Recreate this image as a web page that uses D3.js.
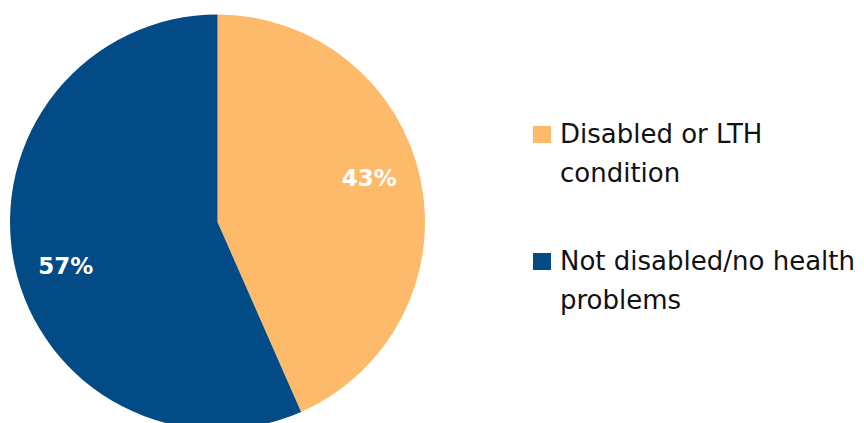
<!DOCTYPE html>
<html>
<head>
<meta charset="utf-8">
<script src="https://cdn.jsdelivr.net/npm/d3@7"></script>
<style>
  body { margin: 0; background: #fff; }
  svg { display: block; }
</style>
</head>
<body>
<div id="chart"></div>
<script>
  // data (labels show rounded values)
  var categories = ['Disabled or LTH condition', 'Not disabled/no health problems'];
  var values = [43.4, 56.6];
  var legendLines = [['Disabled or LTH', 'condition'], ['Not disabled/no health', 'problems']];
  var colors = ['#FCBA6A', '#034B87'];

  var width = 864, height = 423;
  var cx = 217.5, cy = 222, radius = 207.5;

  var svg = d3.select('#chart').append('svg')
    .attr('width', width)
    .attr('height', height);

  var color = d3.scaleOrdinal()
    .domain(categories)
    .range(colors);

  var pie = d3.pie()
    .sort(null)
    .value(function(d){ return d.value; });

  var data = categories.map(function(c, i){ return {name: c, value: values[i]}; });

  var arc = d3.arc().innerRadius(0).outerRadius(radius);

  var pieGroup = svg.append('g')
    .attr('transform', 'translate(' + cx + ',' + cy + ')');

  var slices = pieGroup.selectAll('g.slice')
    .data(pie(data))
    .enter()
    .append('g')
    .attr('class', 'slice');

  slices.append('path')
    .attr('d', arc)
    .attr('fill', function(d){ return color(d.data.name); });

  // labels, nudged a bit toward the horizontal like the original
  slices.append('text')
    .attr('transform', function(d){
      var mid = (d.startAngle + d.endAngle) / 2 - 0.075;
      var p = d3.arc().innerRadius(158).outerRadius(158).startAngle(mid).endAngle(mid).centroid();
      return 'translate(' + p[0] + ',' + p[1] + ')';
    })
    .attr('dy', '0.36em')
    .attr('text-anchor', 'middle')
    .attr('fill', '#fff')
    .attr('font-family', 'DejaVu Sans, sans-serif')
    .attr('font-weight', 'bold')
    .attr('font-size', '23px')
    .text(function(d){ return Math.round(d.data.value) + '%'; });

  // legend
  var legend = svg.append('g')
    .attr('transform', 'translate(533, 143)');

  var items = legend.selectAll('g.item')
    .data(categories)
    .enter()
    .append('g')
    .attr('class', 'item')
    .attr('transform', function(d, i){ return 'translate(0,' + (i * 127) + ')'; });

  items.append('rect')
    .attr('y', -17)
    .attr('width', 18)
    .attr('height', 17)
    .attr('fill', function(d){ return color(d); });

  items.each(function(d, i){
    var t = d3.select(this).append('text')
      .attr('x', 27)
      .attr('y', 0)
      .attr('fill', '#111')
      .attr('font-family', 'DejaVu Sans, sans-serif')
      .attr('font-size', '26px');
    legendLines[i].forEach(function(line, j){
      t.append('tspan')
        .attr('x', 27)
        .attr('dy', j === 0 ? 0 : 39)
        .text(line);
    });
  });
</script>
</body>
</html>
